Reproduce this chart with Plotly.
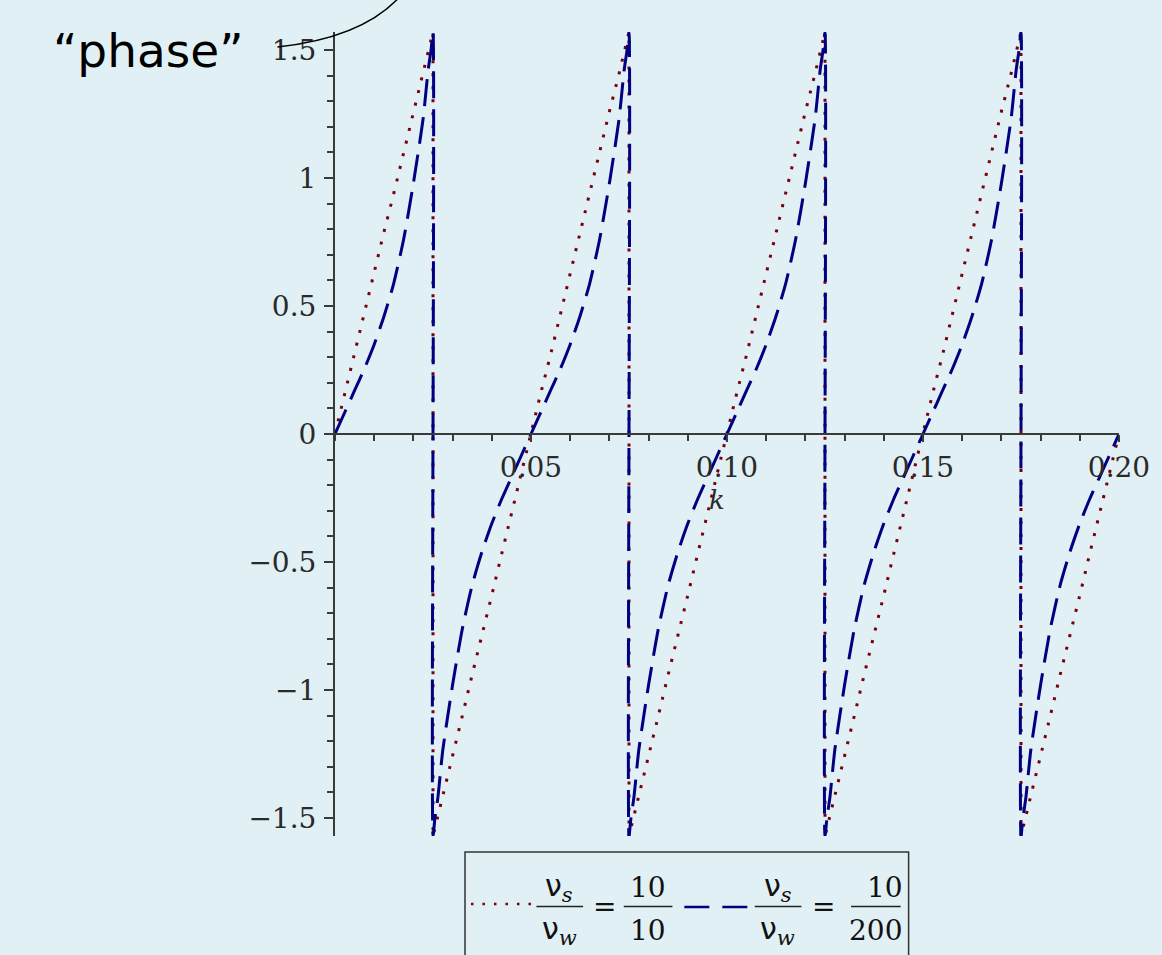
import plotly.graph_objects as go

# ---------------- data ----------------
k_navy = [0, 0.0025, 0.005, 0.0075, 0.01, 0.0125, 0.015, 0.0175, 0.02, 0.0225, 0.02375, 0.0245, 0.025,
          0.025, 0.0255, 0.02625, 0.0275, 0.03, 0.0325, 0.035, 0.0375, 0.04, 0.0425, 0.045, 0.0475, 0.05,
          0.0525, 0.055, 0.0575, 0.06, 0.0625, 0.065, 0.0675, 0.07, 0.0725, 0.07375, 0.0745, 0.075,
          0.075, 0.0755, 0.07625, 0.0775, 0.08, 0.0825, 0.085, 0.0875, 0.09, 0.0925, 0.095, 0.0975, 0.1,
          0.1025, 0.105, 0.1075, 0.11, 0.1125, 0.115, 0.1175, 0.12, 0.1225, 0.12375, 0.1245, 0.125,
          0.125, 0.1255, 0.12625, 0.1275, 0.13, 0.1325, 0.135, 0.1375, 0.14, 0.1425, 0.145, 0.1475, 0.15,
          0.1525, 0.155, 0.1575, 0.16, 0.1625, 0.165, 0.1675, 0.17, 0.1725, 0.17375, 0.1745, 0.175,
          0.175, 0.1755, 0.17625, 0.1775, 0.18, 0.1825, 0.185, 0.1875, 0.19, 0.1925, 0.195, 0.1975, 0.2]
phase_navy = [0, 0.085, 0.17, 0.255, 0.35, 0.46, 0.59, 0.76, 0.98, 1.235, 1.42, 1.50, 1.571,
              -1.571, -1.50, -1.42, -1.235, -0.98, -0.76, -0.59, -0.46, -0.35, -0.255, -0.17, -0.085, 0,
              0.085, 0.17, 0.255, 0.35, 0.46, 0.59, 0.76, 0.98, 1.235, 1.42, 1.50, 1.571,
              -1.571, -1.50, -1.42, -1.235, -0.98, -0.76, -0.59, -0.46, -0.35, -0.255, -0.17, -0.085, 0,
              0.085, 0.17, 0.255, 0.35, 0.46, 0.59, 0.76, 0.98, 1.235, 1.42, 1.50, 1.571,
              -1.571, -1.50, -1.42, -1.235, -0.98, -0.76, -0.59, -0.46, -0.35, -0.255, -0.17, -0.085, 0,
              0.085, 0.17, 0.255, 0.35, 0.46, 0.59, 0.76, 0.98, 1.235, 1.42, 1.50, 1.571,
              -1.571, -1.50, -1.42, -1.235, -0.98, -0.76, -0.59, -0.46, -0.35, -0.255, -0.17, -0.085, 0]

k_red = [0, 0.0025, 0.005, 0.0075, 0.01, 0.0125, 0.015, 0.0175, 0.02, 0.0225, 0.025,
         0.025, 0.0275, 0.03, 0.0325, 0.035, 0.0375, 0.04, 0.0425, 0.045, 0.0475, 0.05,
         0.0525, 0.055, 0.0575, 0.06, 0.0625, 0.065, 0.0675, 0.07, 0.0725, 0.075,
         0.075, 0.0775, 0.08, 0.0825, 0.085, 0.0875, 0.09, 0.0925, 0.095, 0.0975, 0.1,
         0.1025, 0.105, 0.1075, 0.11, 0.1125, 0.115, 0.1175, 0.12, 0.1225, 0.125,
         0.125, 0.1275, 0.13, 0.1325, 0.135, 0.1375, 0.14, 0.1425, 0.145, 0.1475, 0.15,
         0.1525, 0.155, 0.1575, 0.16, 0.1625, 0.165, 0.1675, 0.17, 0.1725, 0.175,
         0.175, 0.1775, 0.18, 0.1825, 0.185, 0.1875, 0.19, 0.1925, 0.195, 0.1975, 0.2]
phase_red = [0, 0.16, 0.31, 0.47, 0.63, 0.79, 0.94, 1.10, 1.26, 1.41, 1.571,
             -1.571, -1.41, -1.26, -1.10, -0.94, -0.79, -0.63, -0.47, -0.31, -0.16, 0,
             0.16, 0.31, 0.47, 0.63, 0.79, 0.94, 1.10, 1.26, 1.41, 1.571,
             -1.571, -1.41, -1.26, -1.10, -0.94, -0.79, -0.63, -0.47, -0.31, -0.16, 0,
             0.16, 0.31, 0.47, 0.63, 0.79, 0.94, 1.10, 1.26, 1.41, 1.571,
             -1.571, -1.41, -1.26, -1.10, -0.94, -0.79, -0.63, -0.47, -0.31, -0.16, 0,
             0.16, 0.31, 0.47, 0.63, 0.79, 0.94, 1.10, 1.26, 1.41, 1.571,
             -1.571, -1.41, -1.26, -1.10, -0.94, -0.79, -0.63, -0.47, -0.31, -0.16, 0]

x_tickvals = [0.05, 0.10, 0.15, 0.20]
x_ticktext = ["0.05", "0.10", "0.15", "0.20"]
y_tickvals = [-1.5, -1, -0.5, 0, 0.5, 1, 1.5]
y_ticktext = ["\u22121.5", "\u22121", "\u22120.5", "0", "0.5", "1", "1.5"]

RED = "#78000E"
NAVY = "#000080"
BG = "#e1f0f4"
AXC = "#3a3a3a"
SERIF = "DejaVu Serif"

# ---------------- layout geometry (pixels) ----------------
W, H = 1162, 955
ML, MR, MT, MB = 335, 37, 32, 119
PW, PH = W - ML - MR, H - MT - MB


def px(xp):
    return (xp - ML) / PW


def py(yp):
    return (H - MB - yp) / PH


fig = go.Figure()
fig.add_trace(go.Scatter(x=k_red, y=phase_red, mode="lines",
                         line=dict(color=RED, width=3, dash="3px,10px"),
                         showlegend=False, hoverinfo="skip"))
fig.add_trace(go.Scatter(x=k_navy, y=phase_navy, mode="lines",
                         line=dict(color=NAVY, width=3, dash="27px,11px", shape="spline", smoothing=0.6),
                         showlegend=False, hoverinfo="skip"))

fig.update_layout(
    width=W, height=H,
    margin=dict(l=ML, r=MR, t=MT, b=MB, pad=0),
    paper_bgcolor=BG, plot_bgcolor=BG,
    showlegend=False,
    xaxis=dict(range=[0, 0.2], anchor="free", position=0.5, side="bottom",
               showgrid=False, zeroline=False, showline=True, linecolor=AXC, linewidth=2,
               ticks="outside", ticklen=7, tickwidth=1.5, tickcolor=AXC,
               tickvals=x_tickvals, ticktext=x_ticktext, ticklabelstandoff=1,
               tickfont=dict(family=SERIF, size=28, color="#2a2a2a"),
               minor=dict(dtick=0.01, tick0=0, ticks="outside", ticklen=6, tickwidth=1.5,
                          tickcolor=AXC, showgrid=False)),
    yaxis=dict(range=[-1.5708, 1.5708], showgrid=False, zeroline=False, showline=True,
               linecolor=AXC, linewidth=2,
               ticks="outside", ticklen=9, tickwidth=1.5, tickcolor=AXC,
               tickvals=y_tickvals, ticktext=y_ticktext, ticklabelstandoff=2,
               tickfont=dict(family=SERIF, size=28, color="#2a2a2a"),
               minor=dict(dtick=0.1, tick0=0, ticks="outside", ticklen=6, tickwidth=1.5,
                          tickcolor=AXC, showgrid=False)),
)

ann = []
shapes = []

# axis label k
ann.append(dict(x=px(720), y=py(500), xref="paper", yref="paper", text="<i>k</i>",
                showarrow=False, font=dict(family=SERIF, size=26, color="#2a2a2a"),
                xanchor="center", yanchor="middle"))

# "phase" label and its curved leader
ann.append(dict(x=px(147), y=py(51), xref="paper", yref="paper", text="\u201cphase\u201d",
                showarrow=False, font=dict(family="DejaVu Sans", size=47, color="black"),
                xanchor="center", yanchor="middle"))
shapes.append(dict(type="path", xref="paper", yref="paper",
                   path=f"M {px(277)} {py(47)} Q {px(362)} {py(38)} {px(400)} {py(-3)}",
                   line=dict(color="black", width=1.5)))

# legend box
shapes.append(dict(type="rect", xref="paper", yref="paper",
                   x0=px(466), x1=px(913), y0=py(852), y1=py(965),
                   line=dict(color="#333333", width=1.5), fillcolor="rgba(0,0,0,0)"))
shapes.append(dict(type="line", xref="paper", yref="paper",
                   x0=px(472), x1=px(533), y0=py(904), y1=py(904),
                   line=dict(color=RED, width=2.5, dash="2.5px,9px")))
shapes.append(dict(type="line", xref="paper", yref="paper",
                   x0=px(687), x1=px(751), y0=py(907), y1=py(907),
                   line=dict(color=NAVY, width=2.5, dash="25px,13px")))

LF = dict(family=SERIF, size=28, color="#111111")
NF = dict(family="DejaVu Sans", size=30, color="#111111")
SUB_S = "<sub><span style='font-family:DejaVu Serif'><i>s</i></span></sub>"
SUB_W = "<sub><span style='font-family:DejaVu Serif'><i>w</i></span></sub>"


def frac(xc, x0, x1, num, den, xn=None, xd=None, nfont=LF):
    ann.append(dict(x=px(xn if xn else xc), y=py(887), xref="paper", yref="paper", text=num,
                    showarrow=False, font=nfont, xanchor="center", yanchor="middle"))
    ann.append(dict(x=px(xd if xd else xc), y=py(930), xref="paper", yref="paper", text=den,
                    showarrow=False, font=nfont, xanchor="center", yanchor="middle"))
    shapes.append(dict(type="line", xref="paper", yref="paper", x0=px(x0), x1=px(x1),
                       y0=py(906.5), y1=py(906.5), line=dict(color="#222222", width=1.5)))


frac(561, 538, 585, "\u03bd" + SUB_S, "\u03bd" + SUB_W, nfont=NF)
ann.append(dict(x=px(607), y=py(906), xref="paper", yref="paper", text="=",
                showarrow=False, font=LF, xanchor="center", yanchor="middle"))
frac(650, 626, 675, "10", "10")
frac(781, 758, 805, "\u03bd" + SUB_S, "\u03bd" + SUB_W, nfont=NF)
ann.append(dict(x=px(827), y=py(906), xref="paper", yref="paper", text="=",
                showarrow=False, font=LF, xanchor="center", yanchor="middle"))
frac(880, 855, 905, "10", "200", xn=889)

fig.update_layout(annotations=ann, shapes=shapes)
fig.write_html("out.html", post_script="document.body.style.margin='0px';",
               config={"displayModeBar": False})
